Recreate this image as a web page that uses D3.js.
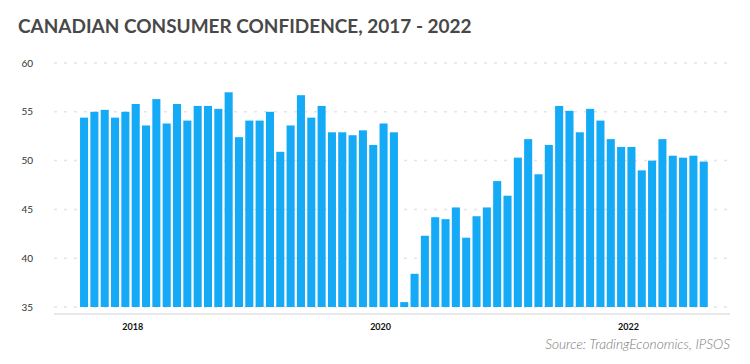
<!DOCTYPE html>
<html>
<head>
<meta charset="utf-8">
<script src="https://cdn.jsdelivr.net/npm/d3@7"></script>
<style>
  html, body { margin: 0; padding: 0; background: #ffffff; }
  svg { display: block; }
</style>
</head>
<body>
<svg id="chart" width="750" height="364"></svg>
<script>
// Monthly data, Aug 2017 – Aug 2022
const months = d3.timeMonths(new Date(2017, 7, 1), new Date(2022, 8, 1));
const values = [
  54.4, 55.0, 55.2, 54.4, 55.0, 55.8, 53.6, 56.3, 53.8, 55.8, 54.1, 55.6,
  55.6, 55.3, 57.0, 52.4, 54.1, 54.1, 55.0, 50.9, 53.6, 56.7, 54.4, 55.6,
  52.9, 52.9, 52.6, 53.1, 51.6, 53.8, 52.9, 35.5, 38.4, 42.3, 44.2, 44.0,
  45.2, 42.1, 44.3, 45.2, 47.9, 46.4, 50.3, 52.2, 48.6, 51.6, 55.6, 55.1,
  52.9, 55.3, 54.1, 52.2, 51.4, 51.4, 49.0, 50.0, 52.2, 50.5, 50.3, 50.5, 49.9
];
const yTicks = [35, 40, 45, 50, 55, 60];
const xTickYears = [2018, 2020, 2022];
const title = "CANADIAN CONSUMER CONFIDENCE, 2017 - 2022";
const source = "Source: TradingEconomics, IPSOS";

const svg = d3.select("#chart");
const keys = months.map(d => d3.timeFormat("%Y-%m")(d));

const x = d3.scaleBand()
  .domain(keys)
  .range([78.9, 708.9])
  .paddingInner(0.22)
  .paddingOuter(0.11);

const y = d3.scaleLinear().domain([35, 60]).range([307, 63]);

// Title
const t = svg.append("text")
  .attr("x", 18).attr("y", 33)
  .attr("font-family", "Lato, 'Open Sans', sans-serif")
  .attr("font-weight", 700)
  .attr("font-size", 20)
  .attr("fill", "#484848")
  .text(title);
const tw = t.node().getComputedTextLength();
t.attr("font-size", 20 * 454 / tw);

// Gridlines
svg.append("g").selectAll("line")
  .data(yTicks)
  .join("line")
  .attr("x1", 54).attr("x2", 730)
  .attr("y1", d => y(d)).attr("y2", d => y(d))
  .attr("stroke", "#e4e4e4")
  .attr("stroke-width", 1.5)
  .attr("stroke-dasharray", "3,7");

// Y labels
svg.append("g").selectAll("text")
  .data(yTicks)
  .join("text")
  .attr("x", 33)
  .attr("y", d => y(d) + 3.5)
  .attr("text-anchor", "end")
  .attr("font-family", "Lato, sans-serif")
  .attr("font-size", 10)
  .attr("fill", "#333")
  .text(d => d);

// Bars
svg.append("g").selectAll("rect")
  .data(values)
  .join("rect")
  .attr("x", (d, i) => x(keys[i]))
  .attr("width", x.bandwidth())
  .attr("y", d => y(d))
  .attr("height", d => y(35) - y(d))
  .attr("fill", "#14aaf6");

// Baseline
svg.append("rect")
  .attr("x", 54).attr("width", 676)
  .attr("y", 313).attr("height", 2)
  .attr("fill", "#e8e8e8");

// X labels
svg.append("g").selectAll("text")
  .data(xTickYears)
  .join("text")
  .attr("x", d => x(d + "-01") + x.bandwidth() / 2 - 3)
  .attr("y", 330)
  .attr("text-anchor", "middle")
  .attr("font-family", "Lato, sans-serif")
  .attr("font-weight", 700)
  .attr("font-size", 9)
  .attr("fill", "#111")
  .text(d => d);

// Source
const s = svg.append("text")
  .attr("x", 730).attr("y", 349)
  .attr("text-anchor", "end")
  .attr("font-family", "Lato, sans-serif")
  .attr("font-style", "italic")
  .attr("font-weight", 300)
  .attr("font-size", 13)
  .attr("fill", "#7a7a7a")
  .text(source);
const sw = s.node().getComputedTextLength();
s.attr("font-size", 13 * 185 / sw);
</script>
</body>
</html>
